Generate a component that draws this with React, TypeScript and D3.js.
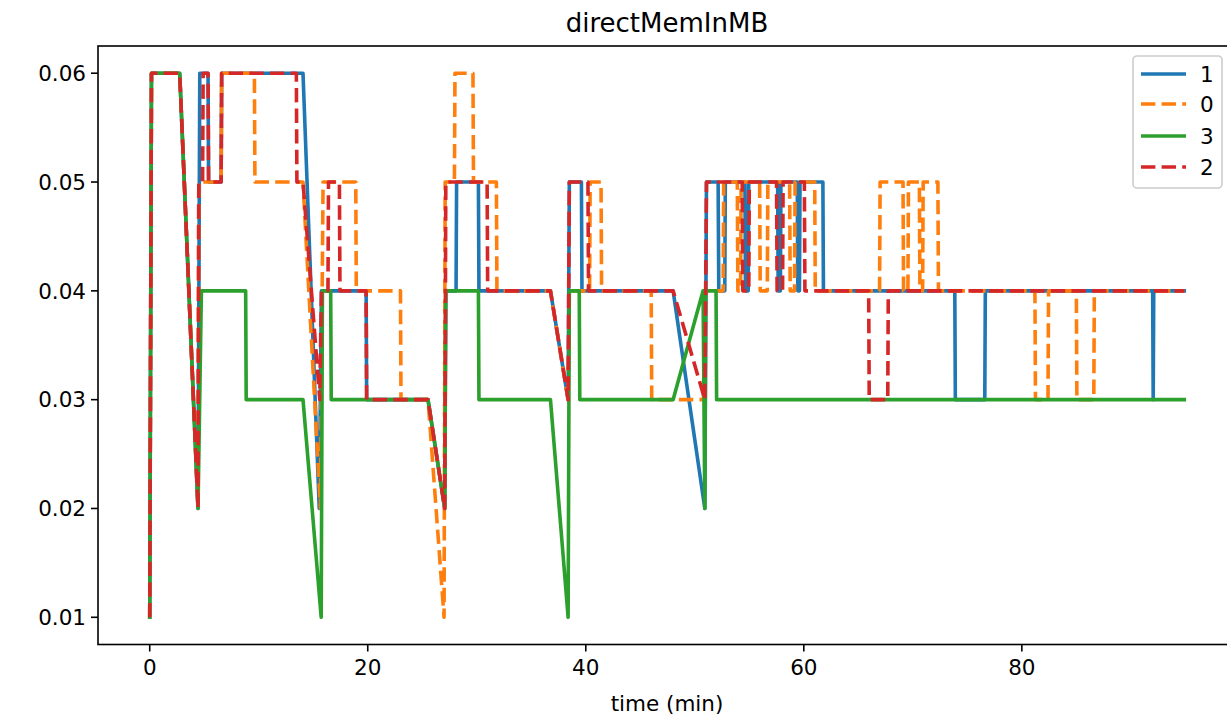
import React from 'react';
import * as d3 from 'd3';

type P = [number, number];

const title = 'directMemInMB';
const xLabel = 'time (min)';
const xTicks = [0, 20, 40, 60, 80];
const yTicks = [0.01, 0.02, 0.03, 0.04, 0.05, 0.06];

const seriesNames = ['1', '0', '3', '2'];
const seriesColors = ['#1f77b4', '#ff7f0e', '#2ca02c', '#d62728'];
const seriesDashed = [false, true, false, true];

const node1: P[] = [
  [0, 0.01], [0.16, 0.06], [2.75, 0.06], [4.43, 0.02], [4.59, 0.06], [5.35, 0.06], [5.4, 0.05],
  [6.55, 0.05], [6.6, 0.06], [14.06, 0.06], [15.55, 0.02], [15.75, 0.04], [19.85, 0.04], [19.9, 0.03],
  [25.53, 0.03], [27.06, 0.02], [27.16, 0.04], [28.1, 0.04], [28.15, 0.05], [30.15, 0.05], [30.2, 0.04],
  [36.76, 0.04], [38.38, 0.03], [38.49, 0.05], [39.6, 0.05], [39.65, 0.04], [48.01, 0.04], [50.92, 0.02],
  [51.07, 0.05], [52.14, 0.05], [52.2, 0.04], [52.75, 0.04], [52.8, 0.05], [54.6, 0.05], [54.65, 0.04],
  [54.9, 0.04], [54.95, 0.05], [57.6, 0.05], [57.65, 0.04], [57.85, 0.04], [57.9, 0.05], [59.4, 0.05],
  [59.45, 0.04], [59.6, 0.04], [59.65, 0.05], [61.75, 0.05], [61.8, 0.04], [73.85, 0.04], [73.9, 0.03],
  [76.6, 0.03], [76.65, 0.04], [92.0, 0.04], [92.05, 0.03], [92.1, 0.04], [94.9, 0.04],
];

const node0: P[] = [
  [0, 0.01], [0.16, 0.06], [2.75, 0.06], [4.43, 0.02], [4.5, 0.05], [6.55, 0.05], [6.6, 0.06],
  [9.6, 0.06], [9.65, 0.05], [14.06, 0.05], [15.66, 0.02], [15.9, 0.05], [18.9, 0.05], [18.95, 0.04],
  [23.0, 0.04], [23.05, 0.03], [25.53, 0.03], [27.0, 0.01], [27.1, 0.05], [27.95, 0.05], [28.0, 0.06],
  [29.65, 0.06], [29.7, 0.05], [31.8, 0.05], [31.85, 0.04], [36.76, 0.04], [38.38, 0.03], [38.49, 0.04],
  [40.35, 0.04], [40.4, 0.05], [41.4, 0.05], [41.45, 0.04], [46.0, 0.04], [46.05, 0.03], [50.8, 0.03],
  [50.9, 0.04], [52.6, 0.04], [52.65, 0.05], [53.9, 0.05], [53.95, 0.04], [54.2, 0.04], [54.25, 0.05],
  [55.95, 0.05], [56.0, 0.04], [56.65, 0.04], [56.7, 0.05], [58.7, 0.05], [58.75, 0.04], [59.15, 0.04],
  [59.2, 0.05], [61.0, 0.05], [61.05, 0.04], [66.95, 0.04], [67.0, 0.05], [69.1, 0.05], [69.15, 0.04],
  [69.55, 0.04], [69.6, 0.05], [70.6, 0.05], [70.65, 0.04], [70.9, 0.04], [70.95, 0.05], [72.3, 0.05],
  [72.35, 0.04], [81.2, 0.04], [81.25, 0.03], [82.4, 0.03], [82.45, 0.04], [85.0, 0.04], [85.05, 0.03],
  [86.6, 0.03], [86.65, 0.04], [94.9, 0.04],
];

const node3: P[] = [
  [0, 0.01], [0.16, 0.06], [2.75, 0.06], [4.43, 0.02], [4.74, 0.04], [8.8, 0.04], [8.85, 0.03],
  [14.06, 0.03], [15.73, 0.01], [15.84, 0.04], [16.6, 0.04], [16.65, 0.03], [25.53, 0.03], [27.06, 0.02],
  [27.16, 0.04], [30.15, 0.04], [30.2, 0.03], [36.76, 0.03], [38.38, 0.01], [38.49, 0.04], [39.4, 0.04],
  [39.45, 0.03], [48.01, 0.03], [50.76, 0.04], [50.92, 0.02], [51.0, 0.04], [51.95, 0.04], [52.0, 0.03],
  [94.9, 0.03],
];

const node2: P[] = [
  [0, 0.01], [0.16, 0.06], [2.75, 0.06], [4.43, 0.02], [4.5, 0.05], [4.85, 0.05], [4.9, 0.06],
  [5.35, 0.06], [5.4, 0.05], [6.55, 0.05], [6.6, 0.06], [13.45, 0.06], [13.5, 0.05], [14.06, 0.05],
  [15.6, 0.03], [15.75, 0.04], [16.35, 0.04], [16.4, 0.05], [17.4, 0.05], [17.45, 0.04], [19.85, 0.04],
  [19.9, 0.03], [25.53, 0.03], [27.06, 0.02], [27.16, 0.05], [30.95, 0.05], [31.0, 0.04], [36.76, 0.04],
  [38.38, 0.03], [38.49, 0.05], [40.2, 0.05], [40.25, 0.04], [48.01, 0.04], [50.92, 0.03], [51.07, 0.05],
  [54.35, 0.05], [54.4, 0.04], [54.95, 0.04], [55.0, 0.05], [57.5, 0.05], [57.55, 0.04], [58.05, 0.04],
  [58.1, 0.05], [60.05, 0.05], [60.1, 0.04], [65.95, 0.04], [66.0, 0.03], [67.7, 0.03], [67.75, 0.04],
  [94.9, 0.04],
];

const seriesData: P[][] = [node1, node0, node3, node2];

const W = 1227;
const H = 719;
const left = 98;
const right = 1236;
const top = 46;
const bottom = 644.5;
const FONT = '"DejaVu Sans", sans-serif';
const FS = 21.5;

export default function App() {
  const all = seriesData.flat();
  const [x0, x1] = d3.extent(all, (d) => d[0]) as [number, number];
  const [y0, y1] = d3.extent(all, (d) => d[1]) as [number, number];
  const xp = (x1 - x0) * 0.05;
  const yp = (y1 - y0) * 0.05;
  const x = d3.scaleLinear().domain([x0 - xp, x1 + xp]).range([left, right]);
  const y = d3.scaleLinear().domain([y0 - yp, y1 + yp]).range([bottom, top]);
  const line = d3
    .line<P>()
    .x((d) => x(d[0]))
    .y((d) => y(d[1]));
  const fmt = d3.format('.2f');

  const legendX = 1133;
  const legendY = 56;
  const legendRows = [74, 104, 136, 167];

  return (
    <svg
      width={W}
      height={H}
      style={{ position: 'absolute', left: 0, top: 0, background: '#fff' }}
      fontFamily={FONT}
    >
      <defs>
        <clipPath id="plotclip">
          <rect x={left} y={top} width={right - left} height={bottom - top} />
        </clipPath>
      </defs>
      <rect x={0} y={0} width={W} height={H} fill="#fff" />
      <g clipPath="url(#plotclip)">
        {seriesData.map((d, i) => (
          <path
            key={i}
            d={line(d) || ''}
            fill="none"
            stroke={seriesColors[i]}
            strokeWidth={3.6}
            strokeLinejoin="round"
            strokeLinecap={seriesDashed[i] ? 'butt' : 'square'}
            strokeDasharray={seriesDashed[i] ? '14.4 6.2' : undefined}
          />
        ))}
      </g>
      <rect x={left} y={top} width={right - left} height={bottom - top} fill="none" stroke="#000" strokeWidth={1.6} />
      {xTicks.map((t) => (
        <g key={t}>
          <line x1={x(t)} x2={x(t)} y1={bottom} y2={bottom + 7} stroke="#000" strokeWidth={1.6} />
          <text x={x(t)} y={bottom + 30} textAnchor="middle" fontSize={FS} fill="#000">
            {t}
          </text>
        </g>
      ))}
      {yTicks.map((t) => (
        <g key={t}>
          <line x1={left - 7} x2={left} y1={y(t)} y2={y(t)} stroke="#000" strokeWidth={1.6} />
          <text x={left - 12} y={y(t) + 7.8} textAnchor="end" fontSize={FS} fill="#000">
            {fmt(t)}
          </text>
        </g>
      ))}
      <text x={(left + right) / 2} y={711} textAnchor="middle" fontSize={FS} fill="#000">
        {xLabel}
      </text>
      <text x={(left + right) / 2} y={32} textAnchor="middle" fontSize={26} fill="#000">
        {title}
      </text>
      <rect
        x={legendX}
        y={legendY}
        width={89}
        height={132}
        rx={4}
        fill="#fff"
        fillOpacity={0.8}
        stroke="#cccccc"
        strokeWidth={1.6}
      />
      {seriesNames.map((n, i) => (
        <g key={n}>
          <line
            x1={1141}
            x2={1186}
            y1={legendRows[i]}
            y2={legendRows[i]}
            stroke={seriesColors[i]}
            strokeWidth={3.6}
            strokeDasharray={seriesDashed[i] ? '14.4 6.2' : undefined}
          />
          <text x={1200} y={legendRows[i] + 7.8} fontSize={FS} fill="#000">
            {n}
          </text>
        </g>
      ))}
    </svg>
  );
}
